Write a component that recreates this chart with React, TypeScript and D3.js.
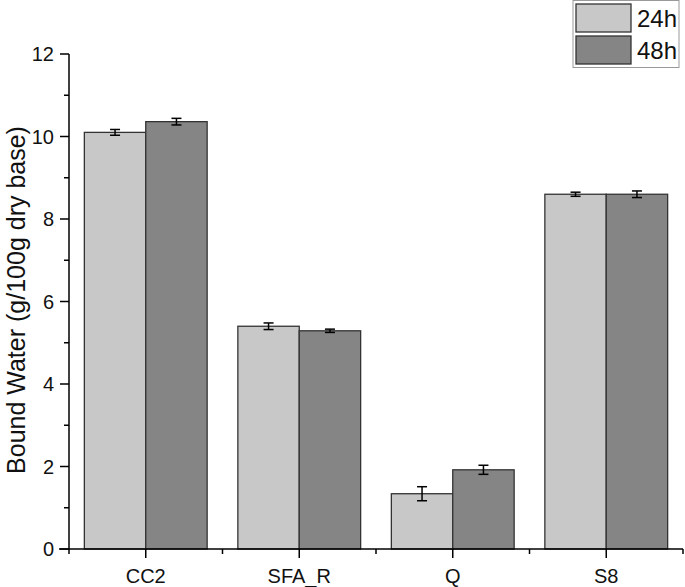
import React from "react";
import * as d3 from "d3";

const categories = ["CC2", "SFA_R", "Q", "S8"];
const seriesNames = ["24h", "48h"];
const values24 = [10.1, 5.4, 1.34, 8.6];
const values48 = [10.36, 5.29, 1.92, 8.6];
const err24 = [0.07, 0.08, 0.17, 0.05];
const err48 = [0.08, 0.04, 0.11, 0.08];
const yTicks = [0, 2, 4, 6, 8, 10, 12];
const yMinorTicks = [1, 3, 5, 7, 9, 11];

const colors = ["#c8c8c8", "#858585"];

export default function App() {
  const W = 685, H = 587;
  const x0 = 69, x1 = 683, yTop = 54, yBot = 549;
  const x = d3.scaleBand<string>().domain(categories).range([x0, x1]).paddingInner(0).paddingOuter(0);
  const y = d3.scaleLinear().domain([0, 12]).range([yBot, yTop]);
  const barGroup = x.bandwidth() * 0.8;
  const xs = d3.scaleBand<string>().domain(seriesNames).range([0, barGroup]);
  const series = [
    { name: "24h", vals: values24, errs: err24 },
    { name: "48h", vals: values48, errs: err48 },
  ];
  const font = "'Liberation Sans', Arial, sans-serif";
  return (
    <svg width={W} height={H} style={{ position: "absolute", left: 0, top: 0 }} fontFamily={font}>
      <rect width={W} height={H} fill="#fff" />
      {series.map((s, si) =>
        categories.map((c, ci) => {
          const bx = (x(c) as number) + (x.bandwidth() - barGroup) / 2 + (xs(s.name) as number);
          const by = y(s.vals[ci]);
          const cx = bx + xs.bandwidth() / 2;
          return (
            <g key={s.name + c}>
              <rect x={bx} y={by} width={xs.bandwidth()} height={yBot - by} fill={colors[si]} stroke="#333" strokeWidth={1.3} />
              <line x1={cx} x2={cx} y1={y(s.vals[ci] + s.errs[ci])} y2={y(s.vals[ci] - s.errs[ci])} stroke="#000" strokeWidth={1.5} />
              <line x1={cx - 5} x2={cx + 5} y1={y(s.vals[ci] + s.errs[ci])} y2={y(s.vals[ci] + s.errs[ci])} stroke="#000" strokeWidth={1.5} />
              <line x1={cx - 5} x2={cx + 5} y1={y(s.vals[ci] - s.errs[ci])} y2={y(s.vals[ci] - s.errs[ci])} stroke="#000" strokeWidth={1.5} />
            </g>
          );
        })
      )}
      {/* y axis */}
      <line x1={x0} x2={x0} y1={yTop} y2={yBot} stroke="#000" strokeWidth={1.5} />
      {yTicks.map((t) => (
        <g key={"yt" + t}>
          <line x1={x0 - 9} x2={x0} y1={y(t)} y2={y(t)} stroke="#000" strokeWidth={1.5} />
          <text x={x0 - 15} y={y(t)} dy="0.36em" textAnchor="end" fontSize={20} fill="#111">{t}</text>
        </g>
      ))}
      {yMinorTicks.map((t) => (
        <line key={"ym" + t} x1={x0 - 5} x2={x0} y1={y(t)} y2={y(t)} stroke="#000" strokeWidth={1.5} />
      ))}
      {/* x axis */}
      <line x1={x0 - 10} x2={x1} y1={yBot} y2={yBot} stroke="#000" strokeWidth={1.5} />
      {categories.map((c) => {
        const cx = (x(c) as number) + x.bandwidth() / 2;
        return (
          <g key={"xt" + c}>
            <line x1={cx} x2={cx} y1={yBot} y2={yBot + 9} stroke="#000" strokeWidth={1.5} />
            <text x={cx} y={yBot + 34} textAnchor="middle" fontSize={20} fill="#111">{c}</text>
          </g>
        );
      })}
      {categories.map((c, i) => (
        <line key={"xm" + i} x1={x(c) as number} x2={x(c) as number} y1={yBot} y2={yBot + 5} stroke="#000" strokeWidth={1.5} />
      ))}
      <line x1={x1} x2={x1} y1={yBot} y2={yBot + 5} stroke="#000" strokeWidth={1.5} />
      {/* y label */}
      <text transform={`translate(25, 300) rotate(-90)`} textAnchor="middle" fontSize={25} fill="#111">
        Bound Water (g/100g dry base)
      </text>
      {/* legend */}
      <rect x={573} y={0.5} width={106} height={67} fill="#fff" stroke="#999" strokeWidth={1} />
      {seriesNames.map((n, i) => (
        <g key={"lg" + n}>
          <rect x={576} y={4 + i * 32} width={55} height={28} fill={colors[i]} stroke="#333" strokeWidth={1.3} />
          <text x={637} y={18 + i * 32} dy="0.36em" fontSize={24} fill="#111">{n}</text>
        </g>
      ))}
    </svg>
  );
}
